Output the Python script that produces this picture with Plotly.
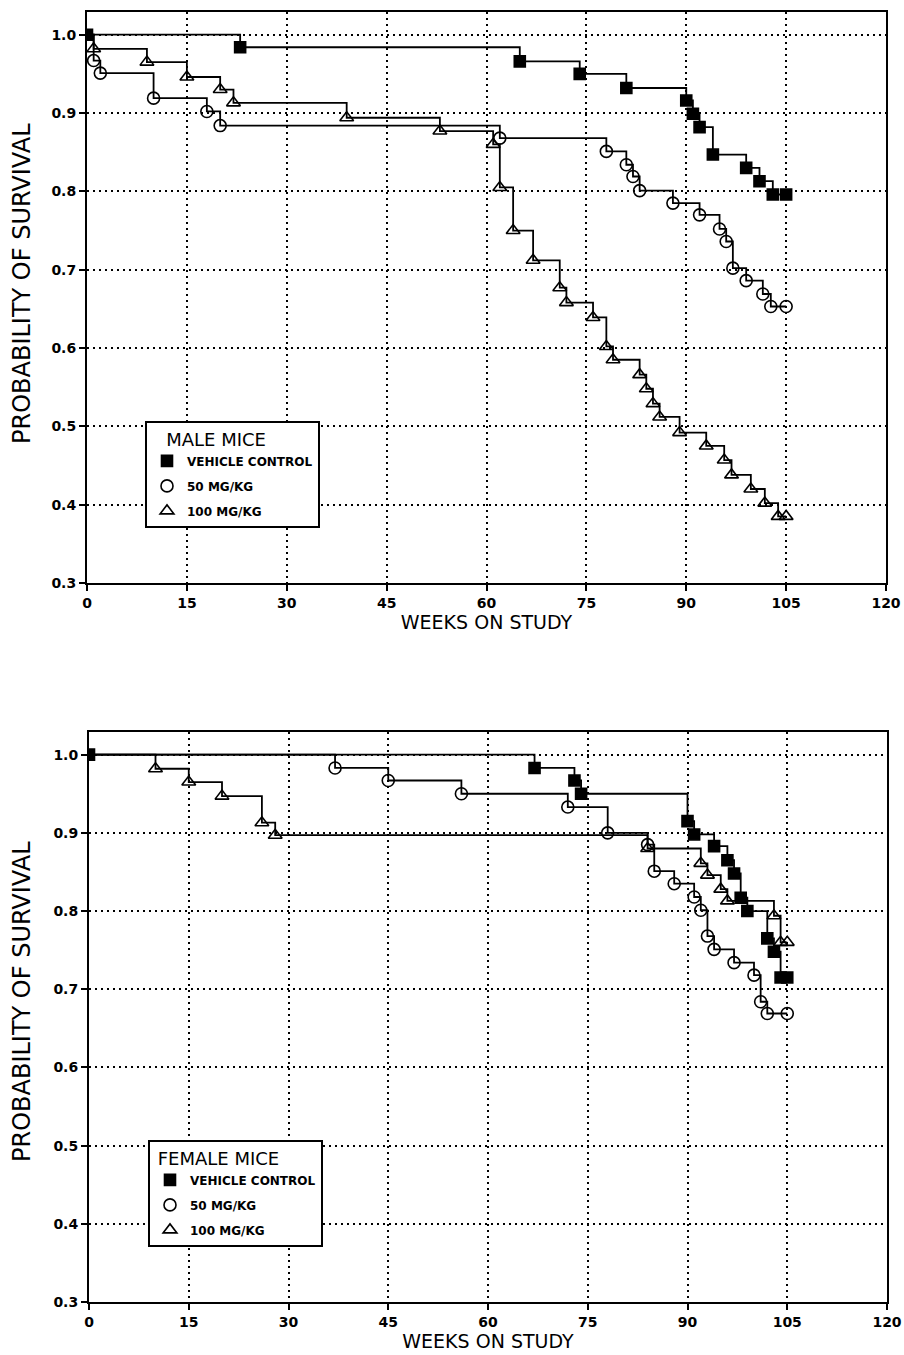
import plotly.graph_objects as go

# ---------------- data ----------------
x_ticks = [0, 15, 30, 45, 60, 75, 90, 105, 120]
y_ticks = [0.3, 0.4, 0.5, 0.6, 0.7, 0.8, 0.9, 1.0]
y_tick_labels = ["0.3", "0.4", "0.5", "0.6", "0.7", "0.8", "0.9", "1.0"]
group_names = ["VEHICLE CONTROL", "50 MG/KG", "100 MG/KG"]

# Male mice
male_vc_weeks = [0, 23, 65, 74, 81, 90, 91, 92, 94, 99, 101, 103, 105]
male_vc_surv = [1.0, 0.984, 0.966, 0.950, 0.932, 0.916, 0.899, 0.882, 0.847, 0.830, 0.813, 0.796, 0.796]

male_50_weeks = [0, 1, 2, 10, 18, 20, 62, 78, 81, 82, 83, 88, 92, 95, 96, 97, 99, 101.5, 102.7, 105]
male_50_surv = [1.0, 0.967, 0.951, 0.919, 0.902, 0.884, 0.868, 0.851, 0.834, 0.819, 0.801, 0.785,
                0.770, 0.752, 0.736, 0.702, 0.686, 0.669, 0.653, 0.653]

male_100_weeks = [0, 1, 9, 15, 20, 22, 39, 53, 61, 62, 64, 67, 71, 72, 76, 78, 79, 83, 84, 85, 86,
                  89, 93, 95.7, 96.8, 99.7, 101.8, 103.8, 105]
male_100_surv = [1.0, 0.982, 0.965, 0.946, 0.930, 0.913, 0.894, 0.877, 0.860, 0.805, 0.750, 0.712,
                 0.677, 0.658, 0.639, 0.602, 0.585, 0.566, 0.548, 0.529, 0.512, 0.492, 0.475, 0.457,
                 0.438, 0.420, 0.402, 0.385, 0.385]

# Female mice
female_vc_weeks = [0, 67, 73, 74, 90, 91, 94, 96, 97, 98, 99, 102, 103, 104, 105]
female_vc_surv = [1.0, 0.983, 0.967, 0.950, 0.915, 0.898, 0.883, 0.865, 0.848, 0.817, 0.800,
                  0.765, 0.748, 0.715, 0.715]

female_50_weeks = [0, 37, 45, 56, 72, 78, 84, 85, 88, 91, 92, 93, 94, 97, 100, 101, 102, 105]
female_50_surv = [1.0, 0.983, 0.967, 0.950, 0.933, 0.900, 0.885, 0.851, 0.835, 0.818, 0.801,
                  0.768, 0.751, 0.734, 0.718, 0.684, 0.669, 0.669]

female_100_weeks = [0, 10, 15, 20, 26, 28, 84, 92, 93, 95, 96, 103, 104, 105]
female_100_surv = [1.0, 0.982, 0.965, 0.947, 0.913, 0.897, 0.880, 0.861, 0.846, 0.828, 0.813,
                   0.794, 0.760, 0.760]

# ---------------- figure ----------------
W, H = 904, 1355
ML, MR, MT, MB = 40, 16, 8, 30
PW, PH = W - ML - MR, H - MT - MB


def fx(px):
    return (px - ML) / PW


def fy(py):
    return (H - MB - py) / PH


fig = go.Figure()

symbols = ["square", "circle-open", "triangle-up-open"]
sizes = [11, 12, 12]


def add_group(xa, ya, weeks, surv, idx, legend):
    fig.add_trace(go.Scatter(
        x=weeks, y=surv, mode="lines",
        line=dict(color="black", width=1.8, shape="hv"),
        xaxis=xa, yaxis=ya, showlegend=False, hoverinfo="skip"))
    start = 0 if idx == 0 else 1
    fig.add_trace(go.Scatter(
        x=weeks[start:], y=surv[start:], mode="markers",
        marker=dict(symbol=symbols[idx], size=sizes[idx], color="black",
                    line=dict(color="black", width=1.6)),
        name=group_names[idx], legend=legend, legendgroup=legend + str(idx),
        xaxis=xa, yaxis=ya))


add_group("x", "y", male_vc_weeks, male_vc_surv, 0, "legend")
add_group("x", "y", male_50_weeks, male_50_surv, 1, "legend")
add_group("x", "y", male_100_weeks, male_100_surv, 2, "legend")

add_group("x2", "y2", female_vc_weeks, female_vc_surv, 0, "legend2")
add_group("x2", "y2", female_50_weeks, female_50_surv, 1, "legend2")
add_group("x2", "y2", female_100_weeks, female_100_surv, 2, "legend2")

font_main = "DejaVu Sans"
grid_dash = "2px,4px"

xaxis_common = dict(
    range=[0, 120], tickvals=x_ticks, ticktext=[str(v) for v in x_ticks],
    showgrid=True, gridcolor="black", griddash=grid_dash, gridwidth=1.8,
    showline=True, linecolor="black", linewidth=2, mirror=True,
    ticks="outside", ticklen=6, tickwidth=2, tickcolor="black",
    tickfont=dict(family=font_main, size=14, color="black", weight="bold"),
    zeroline=False, fixedrange=True, automargin=False,
    title=dict(text="WEEKS ON STUDY", font=dict(family=font_main, size=19, color="black"), standoff=2),
)
yaxis_common = dict(
    range=[0.3, 1.029], tickvals=y_ticks, ticktext=y_tick_labels,
    showgrid=True, gridcolor="black", griddash=grid_dash, gridwidth=1.8,
    showline=True, linecolor="black", linewidth=2, mirror=True,
    ticks="outside", ticklen=6, tickwidth=2, tickcolor="black",
    tickfont=dict(family=font_main, size=14, color="black", weight="bold"),
    zeroline=False, fixedrange=True, automargin=False,
)

legend_common = dict(
    bgcolor="white", bordercolor="black", borderwidth=2,
    font=dict(family=font_main, size=12, color="black", weight="bold"),
    xanchor="left", yanchor="top", tracegroupgap=6, itemwidth=30,
)

ytitle = "PROBABILITY OF SURVIVAL"
annotations = [
    dict(text=ytitle, xref="paper", yref="paper", x=fx(22), y=fy(284),
         xanchor="center", yanchor="middle", textangle=-90, showarrow=False,
         font=dict(family=font_main, size=24, color="black")),
    dict(text=ytitle, xref="paper", yref="paper", x=fx(22), y=fy(1002),
         xanchor="center", yanchor="middle", textangle=-90, showarrow=False,
         font=dict(family=font_main, size=24, color="black")),
]

fig.update_layout(
    width=W, height=H, autosize=False,
    margin=dict(l=ML, r=MR, t=MT, b=MB, autoexpand=False),
    paper_bgcolor="white", plot_bgcolor="white",
    xaxis=dict(domain=[fx(87), fx(886)], anchor="y", **xaxis_common),
    yaxis=dict(domain=[fy(583), fy(12)], anchor="x", **yaxis_common),
    xaxis2=dict(domain=[fx(89), fx(887)], anchor="y2", **xaxis_common),
    yaxis2=dict(domain=[fy(1302), fy(732)], anchor="x2", **yaxis_common),
    legend=dict(x=fx(145), y=fy(421),
                title=dict(text="\u00a0\u00a0\u00a0MALE MICE",
                           font=dict(family=font_main, size=18, color="black", weight="normal")),
                **legend_common),
    legend2=dict(x=fx(148), y=fy(1140),
                 title=dict(text="\u00a0FEMALE MICE",
                            font=dict(family=font_main, size=18, color="black", weight="normal")),
                 **legend_common),
    annotations=annotations,
    showlegend=True,
)

fig.write_html(
    "out.html",
    config={"displayModeBar": False},
    post_script=(
        "document.documentElement.style.margin='0';"
        "document.documentElement.style.overflow='hidden';"
        "document.body.style.margin='0';"
        "document.body.style.overflow='hidden';"
    ),
)
